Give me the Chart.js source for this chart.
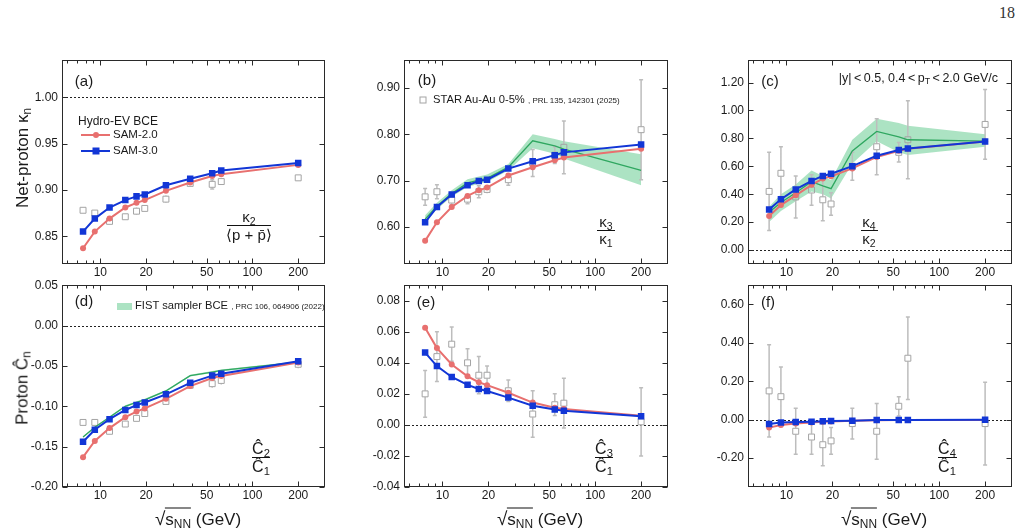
<!DOCTYPE html>
<html><head><meta charset="utf-8">
<script src="https://cdn.jsdelivr.net/npm/chart.js@4.4.1/dist/chart.umd.min.js"></script>
<style>
html,body{margin:0;padding:0;background:#fff}
body{width:1023px;height:532px;position:relative;overflow:hidden;font-family:"Liberation Sans",Arial,Helvetica,sans-serif;color:#1a1a1a}
canvas{position:absolute}
.t{position:absolute;white-space:nowrap;line-height:1}
.c{transform:translate(-50%,-50%)}
.vm{transform:translateY(-50%)}
sub{font-size:70%;line-height:0;vertical-align:-0.28em}
.small{font-size:8px}
.num{transform:translate(-50%,-100%);font-size:15px}
.den{transform:translate(-50%,0);font-size:15px}
.bar{position:absolute;height:0;border-top:1px solid #111}
.rot{transform:translate(-50%,-50%) rotate(-90deg);font-size:17px}
.pl{font-size:15px}
.xt{font-size:17px}
.ov{border-top:1.2px solid #111;padding-top:1px}
</style></head><body>

<script>
// ---------- data ----------
const energies = [7.7, 9.2, 11.5, 14.6, 17.3, 19.6, 27, 39, 54.4, 62.4, 200];
const xTickVals = [6, 7, 8, 9, 10, 20, 30, 40, 50, 60, 70, 80, 90, 100, 200, 300];
const xLabelVals = [10, 20, 50, 100, 200];

// (a) kappa2/<p+pbar>
const a_sam2 = [0.837, 0.855, 0.869, 0.881, 0.886, 0.889, 0.899, 0.908, 0.915, 0.917, 0.927];
const a_sam3 = [0.855, 0.869, 0.881, 0.889, 0.893, 0.895, 0.905, 0.912, 0.918, 0.921, 0.929];
const a_star = [0.878, 0.875, 0.866, 0.871, 0.877, 0.880, 0.890, 0.907, 0.906, 0.909, 0.913];
const a_starErr = [0.002, 0.003, 0.002, 0.003, 0.004, 0.003, 0.004, 0.003, 0.005, 0.003, 0.003];
const a_yTicks = [0.85, 0.90, 0.95, 1.00];

// (b) kappa3/kappa1
const b_sam2 = [0.570, 0.610, 0.643, 0.667, 0.679, 0.685, 0.711, 0.729, 0.744, 0.750, 0.769];
const b_sam3 = [0.610, 0.643, 0.670, 0.690, 0.699, 0.702, 0.726, 0.742, 0.755, 0.761, 0.778];
const b_fist = [0.617, 0.645, 0.672, 0.695, 0.701, 0.705, 0.729, 0.786, 0.775, 0.768, 0.722];
const b_fistLo = [0.610, 0.638, 0.665, 0.686, 0.693, 0.697, 0.722, 0.770, 0.758, 0.748, 0.690];
const b_fistHi = [0.625, 0.652, 0.679, 0.703, 0.709, 0.713, 0.736, 0.800, 0.790, 0.785, 0.757];
const b_star = [0.665, 0.676, 0.658, 0.660, 0.676, 0.681, 0.702, 0.738, 0.755, 0.772, 0.810];
const b_starErr = [0.018, 0.015, 0.010, 0.010, 0.013, 0.008, 0.012, 0.029, 0.018, 0.057, 0.108];
const b_yTicks = [0.60, 0.70, 0.80, 0.90];

// (c) kappa4/kappa2
const c_sam2 = [0.244, 0.322, 0.392, 0.467, 0.512, 0.528, 0.585, 0.667, 0.711, 0.725, 0.777];
const c_sam3 = [0.291, 0.364, 0.434, 0.495, 0.531, 0.547, 0.601, 0.676, 0.716, 0.728, 0.777];
const c_fist = [0.27, 0.34, 0.41, 0.49, 0.46, 0.44, 0.71, 0.85, 0.81, 0.79, 0.78];
const c_fistLo = [0.20, 0.28, 0.35, 0.42, 0.40, 0.37, 0.62, 0.78, 0.70, 0.68, 0.74];
const c_fistHi = [0.31, 0.40, 0.47, 0.57, 0.53, 0.50, 0.79, 0.94, 0.91, 0.89, 0.83];
const c_star = [0.42, 0.55, 0.38, 0.43, 0.36, 0.33, 0.60, 0.74, 0.70, 0.79, 0.90];
const c_starErr = [0.28, 0.19, 0.15, 0.11, 0.15, 0.08, 0.10, 0.20, 0.07, 0.28, 0.25];
const c_yTicks = [0.00, 0.20, 0.40, 0.60, 0.80, 1.00, 1.20];

// (d) C2/C1
const d_sam2 = [-0.163, -0.143, -0.127, -0.1135, -0.1066, -0.1026, -0.0908, -0.075, -0.0649, -0.0624, -0.0458];
const d_sam3 = [-0.144, -0.129, -0.116, -0.1046, -0.0985, -0.0953, -0.0852, -0.071, -0.062, -0.0596, -0.0442];
const d_fist = [-0.138, -0.126, -0.1135, -0.100, -0.095, -0.092, -0.081, -0.062, -0.0576, -0.0556, -0.0454];
const d_fistLo = [-0.139, -0.127, -0.1147, -0.1012, -0.0962, -0.0932, -0.0822, -0.0632, -0.0588, -0.0568, -0.0466];
const d_fistHi = [-0.137, -0.125, -0.1123, -0.0988, -0.0938, -0.0908, -0.0798, -0.0608, -0.0564, -0.0544, -0.0442];
const d_star = [-0.120, -0.120, -0.131, -0.122, -0.115, -0.109, -0.094, -0.074, -0.072, -0.068, -0.048];
const d_starErr = [0.002, 0.003, 0.003, 0.003, 0.003, 0.003, 0.004, 0.004, 0.005, 0.005, 0.005];
const d_yTicks = [-0.20, -0.15, -0.10, -0.05, 0.00, 0.05];

// (e) C3/C1
const e_sam2 = [0.0626, 0.0495, 0.0389, 0.0313, 0.0275, 0.0256, 0.0207, 0.0144, 0.0110, 0.0102, 0.0059];
const e_sam3 = [0.0466, 0.0379, 0.0309, 0.0258, 0.0231, 0.0218, 0.0176, 0.0123, 0.0099, 0.0091, 0.0055];
const e_star = [0.020, 0.044, 0.052, 0.040, 0.032, 0.032, 0.022, 0.007, 0.013, 0.014, 0.002];
const e_starErr = [0.015, 0.016, 0.011, 0.009, 0.012, 0.006, 0.007, 0.015, 0.007, 0.016, 0.022];
const e_yTicks = [-0.04, -0.02, 0.00, 0.02, 0.04, 0.06, 0.08];

// (f) C4/C1
const f_sam2 = [-0.041, -0.027, -0.019, -0.014, -0.010, -0.009, -0.005, -0.003, -0.002, -0.002, -0.001];
const f_sam3 = [-0.022, -0.015, -0.012, -0.010, -0.008, -0.007, -0.005, -0.002, -0.001, -0.001, 0.000];
const f_star = [0.15, 0.12, -0.06, -0.09, -0.13, -0.11, -0.02, -0.06, 0.07, 0.32, -0.02];
const f_starErr = [0.24, 0.155, 0.12, 0.09, 0.11, 0.07, 0.08, 0.145, 0.05, 0.215, 0.215];
const f_yTicks = [-0.20, 0.00, 0.20, 0.40, 0.60];

// ---------- styling ----------
const RED = '#e8706f', BLUE = '#1236d6', GRAY = '#a4a4a4', ERRC = '#bdbdbd', GREEN = '#2fa760', BAND = 'rgba(140,216,172,0.72)';
const FONT = '"Liberation Sans", Arial, Helvetica, sans-serif';

const panels = [
  {left: 62, top: 57, w: 263, h: 207, min: 0.82, max: 1.04, yt: a_yTicks, ref: 1.0, sam2: a_sam2, sam3: a_sam3, star: a_star, err: a_starErr},
  {left: 404, top: 57, w: 264, h: 207, min: 0.52, max: 0.96, yt: b_yTicks, ref: null, sam2: b_sam2, sam3: b_sam3, star: b_star, err: b_starErr, fist: b_fist, lo: b_fistLo, hi: b_fistHi},
  {left: 748, top: 57, w: 264, h: 207, min: -0.10, max: 1.36, yt: c_yTicks, ref: 0.0, sam2: c_sam2, sam3: c_sam3, star: c_star, err: c_starErr, fist: c_fist, lo: c_fistLo, hi: c_fistHi},
  {left: 62, top: 282, w: 263, h: 205, min: -0.20, max: 0.05, yt: d_yTicks, ref: 0.0, sam2: d_sam2, sam3: d_sam3, star: d_star, err: d_starErr, fist: d_fist, lo: d_fistLo, hi: d_fistHi},
  {left: 404, top: 282, w: 264, h: 205, min: -0.04, max: 0.09, yt: e_yTicks, ref: 0.0, sam2: e_sam2, sam3: e_sam3, star: e_star, err: e_starErr},
  {left: 748, top: 282, w: 264, h: 205, min: -0.35, max: 0.70, yt: f_yTicks, ref: 0.0, sam2: f_sam2, sam3: f_sam3, star: f_star, err: f_starErr}
];

const PADL = 50, PADT = 8, PADR = 8, PADB = 22;

function pts(vals) { return energies.map((e, i) => ({x: e, y: vals[i]})); }

const frameTicks = {
  id: 'frameTicks',
  beforeDatasetsDraw(chart, args, o) {
    if (o.ref === null || o.ref === undefined) return;
    const {ctx, chartArea: ca} = chart;
    const py = Math.round(chart.scales.y.getPixelForValue(o.ref)) + 0.5;
    ctx.save();
    ctx.strokeStyle = '#222'; ctx.lineWidth = 1; ctx.setLineDash([2, 2]);
    ctx.beginPath(); ctx.moveTo(ca.left, py); ctx.lineTo(ca.right, py); ctx.stroke();
    ctx.restore();
  },
  beforeDatasetDraw(chart, args, o) {
    if (args.index !== o.starIndex) return;
    const {ctx} = chart, xs = chart.scales.x, ys = chart.scales.y;
    const vals = o.vals, errs = o.errs;
    ctx.save();
    ctx.strokeStyle = ERRC; ctx.lineWidth = 1.5;
    ctx.beginPath();
    energies.forEach((e, i) => {
      const px = xs.getPixelForValue(e);
      const yc = ys.getPixelForValue(vals[i]);
      const yt = ys.getPixelForValue(vals[i] + errs[i]);
      const yb = ys.getPixelForValue(vals[i] - errs[i]);
      const h = 3.2;
      if (yt < yc - h) { ctx.moveTo(px, yt); ctx.lineTo(px, yc - h); }
      if (yb > yc + h) { ctx.moveTo(px, yc + h); ctx.lineTo(px, yb); }
      if (yc - yt > h + 1) {
        ctx.moveTo(px - 2, yt); ctx.lineTo(px + 2, yt);
        ctx.moveTo(px - 2, yb); ctx.lineTo(px + 2, yb);
      }
    });
    ctx.stroke();
    ctx.restore();
  },
  afterDraw(chart) {
    const {ctx, chartArea: ca} = chart, xs = chart.scales.x, ys = chart.scales.y;
    ctx.save();
    ctx.strokeStyle = '#2a2a2a'; ctx.lineWidth = 1;
    const L = Math.round(ca.left) + 0.5, T = Math.round(ca.top) + 0.5, R = Math.round(ca.right) - 0.5, B = Math.round(ca.bottom) - 0.5;
    ctx.strokeRect(L, T, R - L, B - T);
    ctx.beginPath();
    xs.ticks.forEach(t => {
      const px = Math.round(xs.getPixelForValue(t.value)) + 0.5;
      if (px < L + 1 || px > R - 1) return;
      const len = xLabelVals.includes(t.value) ? 5 : 3;
      ctx.moveTo(px, B); ctx.lineTo(px, B - len);
      ctx.moveTo(px, T); ctx.lineTo(px, T + len);
    });
    ys.ticks.forEach(t => {
      const py = Math.round(ys.getPixelForValue(t.value)) + 0.5;
      ctx.moveTo(L, py); ctx.lineTo(L + 5, py);
      ctx.moveTo(R, py); ctx.lineTo(R - 5, py);
    });
    ctx.stroke();
    ctx.restore();
  }
};

function buildDatasets(p) {
  const ds = [
    {label: 'SAM-3.0', data: pts(p.sam3), borderColor: BLUE, backgroundColor: BLUE, borderWidth: 2, pointStyle: 'rect', pointRadius: 4.6, pointBorderWidth: 0, order: 1},
    {label: 'SAM-2.0', data: pts(p.sam2), borderColor: RED, backgroundColor: RED, borderWidth: 2, pointStyle: 'circle', pointRadius: 3, pointBorderWidth: 0, order: 2},
    {label: 'STAR', data: pts(p.star), showLine: false, borderColor: GRAY, backgroundColor: 'rgba(255,255,255,0)', pointStyle: 'rect', pointRadius: 4.2, pointBorderWidth: 1, order: 4}
  ];
  if (p.fist) {
    ds.push({label: 'FIST', data: pts(p.fist), borderColor: GREEN, borderWidth: 1.3, pointRadius: 0, fill: false, order: 3});
    ds.push({label: 'FIST hi', data: pts(p.hi), borderColor: 'rgba(0,0,0,0)', borderWidth: 0, pointRadius: 0, fill: '+1', backgroundColor: BAND, order: 5});
    ds.push({label: 'FIST lo', data: pts(p.lo), borderColor: 'rgba(0,0,0,0)', borderWidth: 0, pointRadius: 0, fill: false, order: 6});
  }
  return ds;
}

panels.forEach((p, k) => {
  const cv = document.createElement('canvas');
  const W = p.w + PADL + PADR, H = p.h + PADT + PADB;
  cv.width = W; cv.height = H;
  cv.style.left = (p.left - PADL) + 'px';
  cv.style.top = (p.top - PADT) + 'px';
  cv.style.width = W + 'px'; cv.style.height = H + 'px';
  document.body.appendChild(cv);
  new Chart(cv, {
    type: 'line',
    data: {datasets: buildDatasets(p)},
    options: {
      responsive: false, animation: false, devicePixelRatio: 1,
      layout: {padding: {top: PADT, right: PADR, left: 0, bottom: 0}},
      elements: {line: {tension: 0}},
      plugins: {
        legend: {display: false}, tooltip: {enabled: false},
        frameTicks: {ref: p.ref, starIndex: 2, vals: p.star, errs: p.err}
      },
      scales: {
        x: {
          type: 'logarithmic', min: 5.6, max: 300,
          grid: {display: false, drawTicks: false}, border: {display: false},
          afterBuildTicks: s => { s.ticks = xTickVals.map(v => ({value: v})); },
          afterFit: s => { s.height = PADB; },
          ticks: {autoSkip: false, maxRotation: 0, minRotation: 0, padding: 1, color: '#1a1a1a',
            font: {size: 12, family: FONT},
            callback: v => xLabelVals.includes(v) ? String(v) : ''}
        },
        y: {
          type: 'linear', min: p.min, max: p.max,
          grid: {display: false, drawTicks: false}, border: {display: false},
          afterBuildTicks: s => { s.ticks = p.yt.map(v => ({value: v})); },
          afterFit: s => { s.width = PADL; },
          ticks: {padding: 4, color: '#1a1a1a', font: {size: 12, family: FONT},
            callback: v => (Math.abs(v) < 1e-9 ? 0 : v).toFixed(2)}
        }
      }
    },
    plugins: [frameTicks]
  });
});
</script>

<!-- page number -->
<div class="t c" style="left:1007px;top:13px;font-family:'Liberation Serif','DejaVu Serif',serif;font-size:16px;color:#333">18</div>

<!-- panel labels -->
<div class="t c pl" style="left:84px;top:80px">(a)</div>
<div class="t c pl" style="left:427px;top:79px">(b)</div>
<div class="t c pl" style="left:770px;top:80px">(c)</div>
<div class="t c pl" style="left:84px;top:300px">(d)</div>
<div class="t c pl" style="left:426px;top:301px">(e)</div>
<div class="t c pl" style="left:768px;top:301px">(f)</div>

<!-- legend (a) -->
<div class="t vm" style="left:78px;top:121px;font-size:12px">Hydro-EV BCE</div>
<svg style="position:absolute;left:81px;top:129px" width="30" height="12"><line x1="0" y1="6" x2="29" y2="6" stroke="#e8706f" stroke-width="2"/><circle cx="15" cy="6" r="3" fill="#e8706f"/></svg>
<div class="t vm" style="left:113px;top:135px;font-size:11.5px">SAM-2.0</div>
<svg style="position:absolute;left:81px;top:145px" width="30" height="12"><line x1="0" y1="6" x2="29" y2="6" stroke="#1236d6" stroke-width="2"/><rect x="11.5" y="2.5" width="7" height="7" fill="#1236d6"/></svg>
<div class="t vm" style="left:113px;top:151px;font-size:11.5px">SAM-3.0</div>

<!-- legend (b) -->
<svg style="position:absolute;left:419px;top:96px" width="8" height="8"><rect x="1" y="1" width="6" height="6" fill="none" stroke="#a4a4a4" stroke-width="1"/></svg>
<div class="t vm" style="left:433px;top:100px;font-size:11.2px">STAR Au-Au 0-5% <span class="small">, PRL 135, 142301 (2025)</span></div>

<!-- (c) cuts -->
<div class="t vm" style="right:25px;top:78px;font-size:12.5px">|y|&thinsp;&lt;&thinsp;0.5, 0.4&thinsp;&lt;&thinsp;p<sub>T</sub>&thinsp;&lt;&thinsp;2.0 GeV/c</div>

<!-- legend (d) -->
<div style="position:absolute;left:117px;top:303px;width:15px;height:7px;background:rgba(140,216,172,0.72)"></div>
<div class="t vm" style="left:135px;top:306px;font-size:11.2px">FIST sampler BCE <span class="small">, PRC 106, 064906 (2022)</span></div>

<!-- fractions -->
<div class="t num" style="left:249px;top:224px">κ<sub>2</sub></div>
<div class="bar" style="left:227px;top:225px;width:44px"></div>
<div class="t den" style="left:249px;top:227px">⟨p + p̄⟩</div>

<div class="t num" style="left:606px;top:229px">κ<sub>3</sub></div>
<div class="bar" style="left:597px;top:230px;width:18px"></div>
<div class="t den" style="left:606px;top:231px">κ<sub>1</sub></div>

<div class="t num" style="left:869px;top:229px">κ<sub>4</sub></div>
<div class="bar" style="left:861px;top:230px;width:17px"></div>
<div class="t den" style="left:869px;top:231px">κ<sub>2</sub></div>

<div class="t num" style="left:261px;top:457px;font-size:16px">Ĉ<sub>2</sub></div>
<div class="bar" style="left:252px;top:457px;width:18px"></div>
<div class="t den" style="left:261px;top:459px;font-size:16px">Ĉ<sub>1</sub></div>

<div class="t num" style="left:604px;top:457px;font-size:16px">Ĉ<sub>3</sub></div>
<div class="bar" style="left:595px;top:457px;width:18px"></div>
<div class="t den" style="left:604px;top:459px;font-size:16px">Ĉ<sub>1</sub></div>

<div class="t num" style="left:947px;top:457px;font-size:16px">Ĉ<sub>4</sub></div>
<div class="bar" style="left:938px;top:457px;width:19px"></div>
<div class="t den" style="left:947px;top:459px;font-size:16px">Ĉ<sub>1</sub></div>

<!-- y titles -->
<div class="t rot" style="left:22px;top:158px">Net-proton κ<sub>n</sub></div>
<div class="t rot" style="left:22px;top:388px">Proton Ĉ<sub>n</sub></div>

<!-- x titles -->
<div class="t c xt" style="left:198px;top:518px"><span style="font-size:19px">√</span><span class="ov">s<sub>NN</sub></span> (GeV)</div>
<div class="t c xt" style="left:540px;top:518px"><span style="font-size:19px">√</span><span class="ov">s<sub>NN</sub></span> (GeV)</div>
<div class="t c xt" style="left:884px;top:518px"><span style="font-size:19px">√</span><span class="ov">s<sub>NN</sub></span> (GeV)</div>

</body></html>
